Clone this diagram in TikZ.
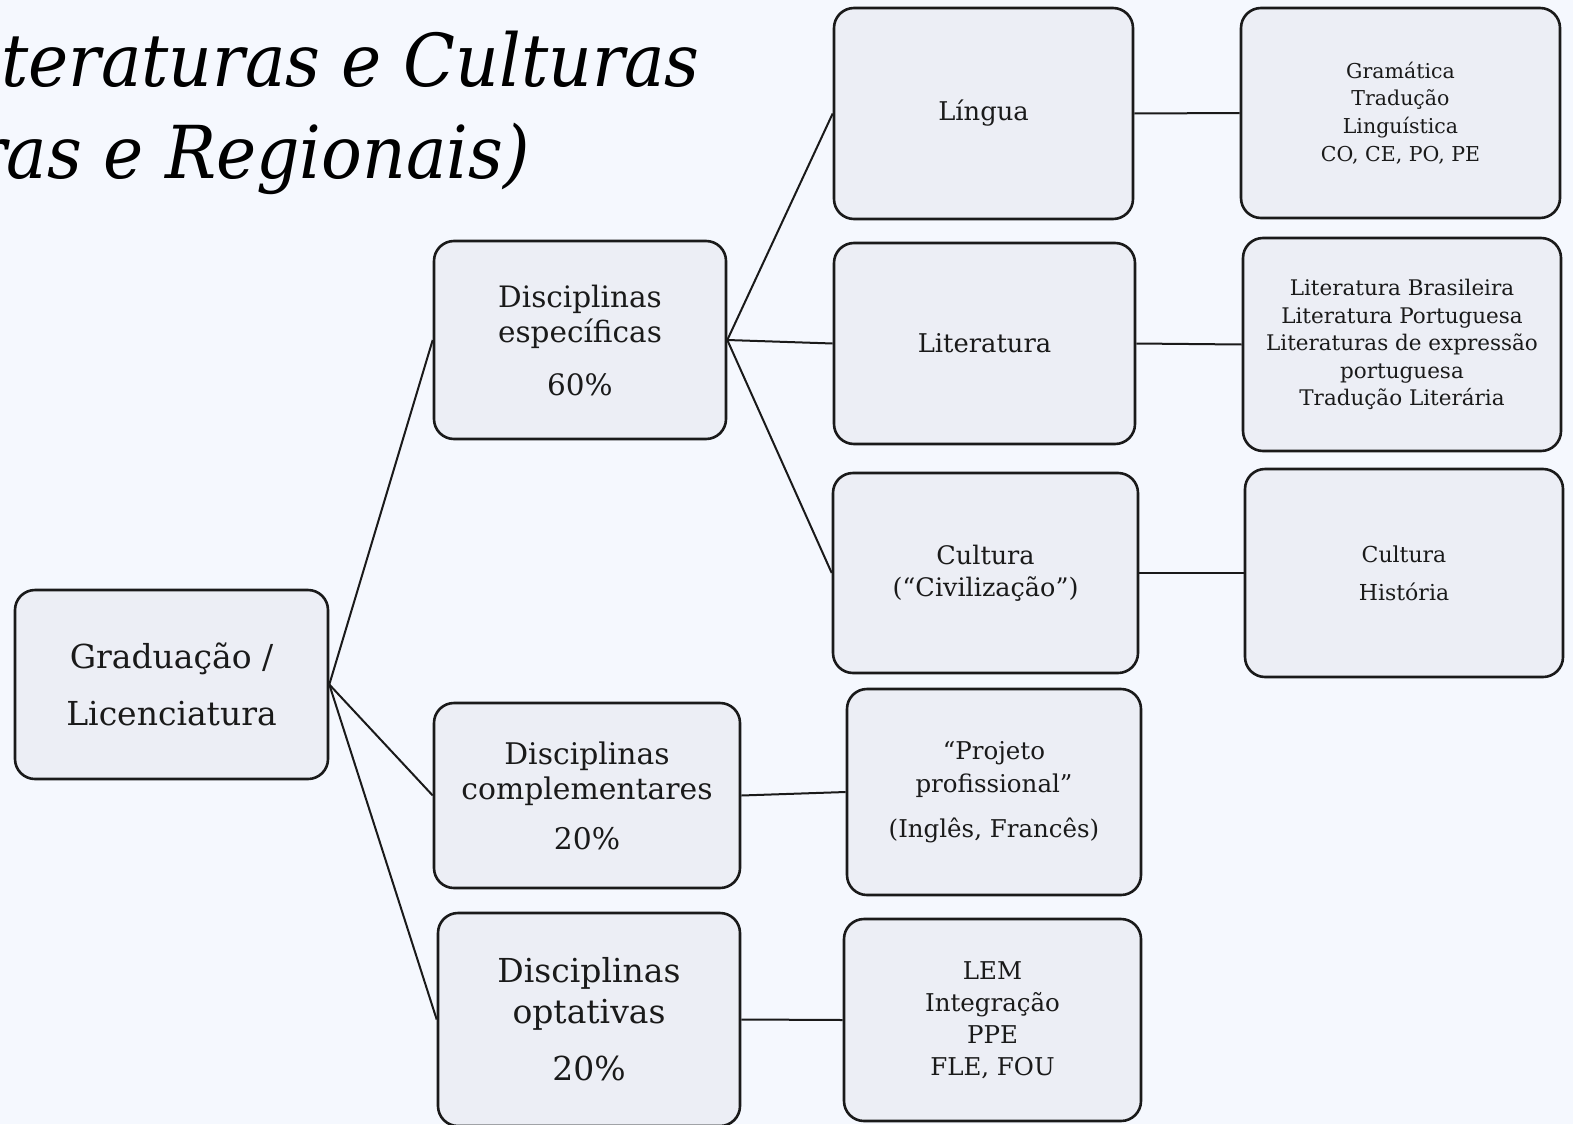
\documentclass[tikz,border=0pt]{standalone}
\usepackage{fontspec}
\setmainfont{DejaVu Serif}
\usepackage{tikz}
\usetikzlibrary{positioning}
\definecolor{bgpage}{HTML}{F5F8FE}
\definecolor{boxfill}{HTML}{ECEEF5}
\definecolor{ink}{HTML}{1A1A1A}
\tikzset{
  box/.style={draw=ink, fill=boxfill, line width=2.6pt, rounded corners=20pt, align=center, inner sep=0pt, text=ink},
  wire/.style={draw=ink, line width=2pt},
  title/.style={anchor=base west, inner sep=0pt, text=black, xscale=0.93, transform shape, font=\fontsize{73}{90}\itshape\selectfont},
}
\begin{document}
\begin{tikzpicture}[x=1pt, y=-1pt]
\fill[bgpage] (0,0) rectangle (1573,1124);
\useasboundingbox (0,0) rectangle (1573,1124);

% title, cut at the left edge
\node[title] (title1) at (1,86) {teraturas e Culturas};
\node[title] (title2) at (-26,178) {ras e Regionais)};

% root
\node[box, minimum width=313pt, minimum height=189pt, font=\fontsize{33}{57}\selectfont] (grad) at (171.5,684.5) {Graduação /\\Licenciatura};

% second level
\node[box, minimum width=292pt, minimum height=198pt, font=\fontsize{29.5}{35}\selectfont] (esp) at (580,340) {Disciplinas\\específicas\\[18pt]60\%};
\node[box, minimum width=306pt, minimum height=185pt, font=\fontsize{29.8}{35}\selectfont] (comp) at (587,795.5) {Disciplinas\\complementares\\[15pt]20\%};
\node[box, minimum width=302pt, minimum height=213pt, font=\fontsize{33}{41}\selectfont] (opt) at (589,1019.5) {Disciplinas\\optativas\\[16pt]20\%};

% third level
\node[box, minimum width=299pt, minimum height=211pt, font=\fontsize{25.8}{32}\selectfont] (lingua) at (983.5,113.5) {Língua};
\node[box, minimum width=301pt, minimum height=201pt, font=\fontsize{25.8}{32}\selectfont] (lit) at (984.5,343.5) {Literatura};
\node[box, minimum width=305pt, minimum height=200pt, font=\fontsize{25.5}{32}\selectfont] (cult) at (985.5,573) {Cultura\\(“Civilização”)};
\node[box, minimum width=294pt, minimum height=206pt, font=\fontsize{24.5}{33}\selectfont] (projeto) at (994,792) {“Projeto\\profissional”\\[12pt](Inglês, Francês)};
\node[box, minimum width=297pt, minimum height=202pt, font=\fontsize{24.5}{32}\selectfont] (lem) at (992.5,1020) {LEM\\Integração\\PPE\\FLE, FOU};

% fourth level
\node[box, minimum width=319pt, minimum height=210pt, font=\fontsize{20.5}{27.7}\selectfont] (gram) at (1400.5,113) {Gramática\\Tradução\\Linguística\\CO, CE, PO, PE};
\node[box, minimum width=318pt, minimum height=213pt, font=\fontsize{21.5}{27.5}\selectfont] (litlist) at (1402,344.5) {Literatura Brasileira\\Literatura Portuguesa\\Literaturas de expressão\\portuguesa\\Tradução Literária};
\node[box, minimum width=318pt, minimum height=208pt, font=\fontsize{22}{38}\selectfont] (culthist) at (1404,573) {Cultura\\História};

% links
\draw[wire] (grad.east) -- (esp.west);
\draw[wire] (grad.east) -- (comp.west);
\draw[wire] (grad.east) -- (opt.west);
\draw[wire] (esp.east) -- (lingua.west);
\draw[wire] (esp.east) -- (lit.west);
\draw[wire] (esp.east) -- (cult.west);
\draw[wire] (lingua.east) -- (gram.west);
\draw[wire] (lit.east) -- (litlist.west);
\draw[wire] (cult.east) -- (culthist.west);
\draw[wire] (comp.east) -- (projeto.west);
\draw[wire] (opt.east) -- (lem.west);
\end{tikzpicture}
\end{document}
